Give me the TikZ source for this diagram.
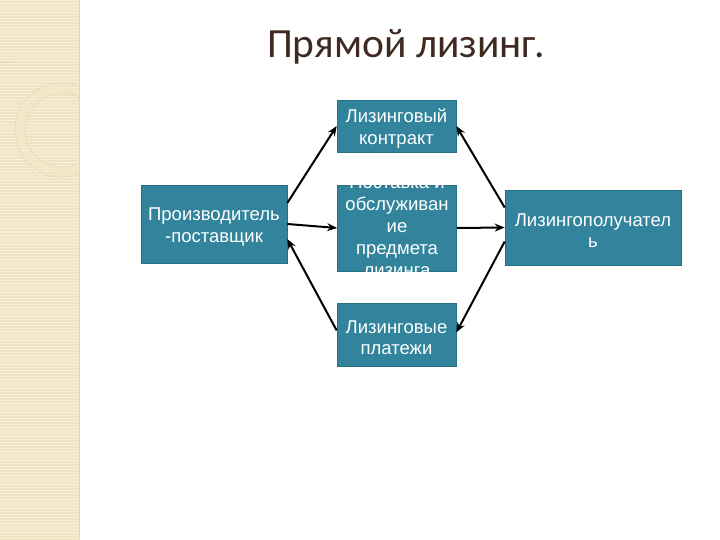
\documentclass[tikz,border=0pt]{standalone}
\usepackage{fontspec}
\setmainfont{Liberation Sans}
\newfontfamily\titlefont{Carlito}
\usetikzlibrary{arrows.meta,calc}

\definecolor{boxfill}{HTML}{31849B}
\definecolor{boxline}{HTML}{276F84}
\definecolor{sidebeige}{HTML}{EFE3C3}
\definecolor{sidelight}{HTML}{F7F0DC}
\definecolor{sideedge}{HTML}{E4D6B2}
\definecolor{ringfill}{HTML}{F3EACA}
\definecolor{titlebrown}{HTML}{3E2A20}

\newcommand{\upstrut}{\rule{0pt}{19pt}}

\tikzset{
  leasebox/.style={draw=boxline, line width=0.6pt, fill=boxfill, text=white,
    inner sep=0pt, align=center, font=\fontsize{18.5}{21.5}\selectfont},
  boxtext/.style={text=white, inner sep=0pt, align=center,
    font=\fontsize{18.5}{22}\selectfont},
  flow/.style={-{Stealth[length=10pt,width=8pt]}, line width=2pt, black}
}

\begin{document}
\begin{tikzpicture}[x=1pt,y=-1pt]

  \useasboundingbox (0,0) rectangle (720,540);

  % Side strip
  \fill[sidebeige] (0,0) rectangle (79,540);
  \foreach \y in {1,4,...,539} {
    \draw[sidelight, line width=1pt] (0,\y) -- (79,\y);
  }
  \begin{scope}
    \clip (0,0) rectangle (79,540);
    \fill[sidelight, opacity=0.5] (0,0) -- (63,0) arc[start angle=0,end angle=-90,radius=63] -- cycle;
    \draw[sideedge, line width=0.6pt] (63,0) arc[start angle=0,end angle=-90,radius=63];
    \draw[sideedge, line width=0.6pt] (0,62) -- (14,62);
    \draw[ringfill, line width=10pt, opacity=0.7] (62,130) circle (42);
    \draw[sideedge, line width=0.5pt] (62,130) circle (47);
    \draw[sideedge, line width=0.5pt] (62,130) circle (37);
  \end{scope}
  \draw[sideedge, line width=0.6pt] (79,0) -- (79,540);

  % Title
  \node[anchor=base, text=titlebrown, font=\titlefont\fontsize{41.5}{45}\selectfont]
    (title) at (406,58) {Прямой лизинг.};

  % Boxes
  \node[leasebox, minimum width=146pt, minimum height=78pt]
    (maker) at (214,224) {\upstrut Производитель\\-поставщик};
  \node[leasebox, minimum width=119pt, minimum height=52pt]
    (contract) at (396.5,126) {\upstrut Лизинговый\\контракт};
  \node[leasebox, minimum width=119pt, minimum height=86pt]
    (supply) at (397,228) {};
  \node[boxtext, anchor=north]
    (supplytext) at (397,176) {Поставка и\\обслуживан\\ие\\предмета\\лизинга};
  \node[leasebox, minimum width=119pt, minimum height=63pt]
    (payments) at (396.5,334.5) {\upstrut Лизинговые\\платежи};
  \node[leasebox, minimum width=176pt, minimum height=75pt]
    (lessee) at (593,227.5) {\upstrut Лизингополучател\\ь};

  % Arrows
  \draw[flow] ([yshift=21pt]maker.east) -- (contract.west);
  \draw[flow] (maker.east) -- (supply.west);
  \draw[flow] ([yshift=4pt]payments.west) -- ([yshift=-15pt]maker.east);
  \draw[flow] ([yshift=20pt]lessee.west) -- (contract.east);
  \draw[flow] (supply.east) -- (lessee.west);
  \draw[flow] ([yshift=-14pt]lessee.west) -- ([yshift=2pt]payments.east);

\end{tikzpicture}
\end{document}
